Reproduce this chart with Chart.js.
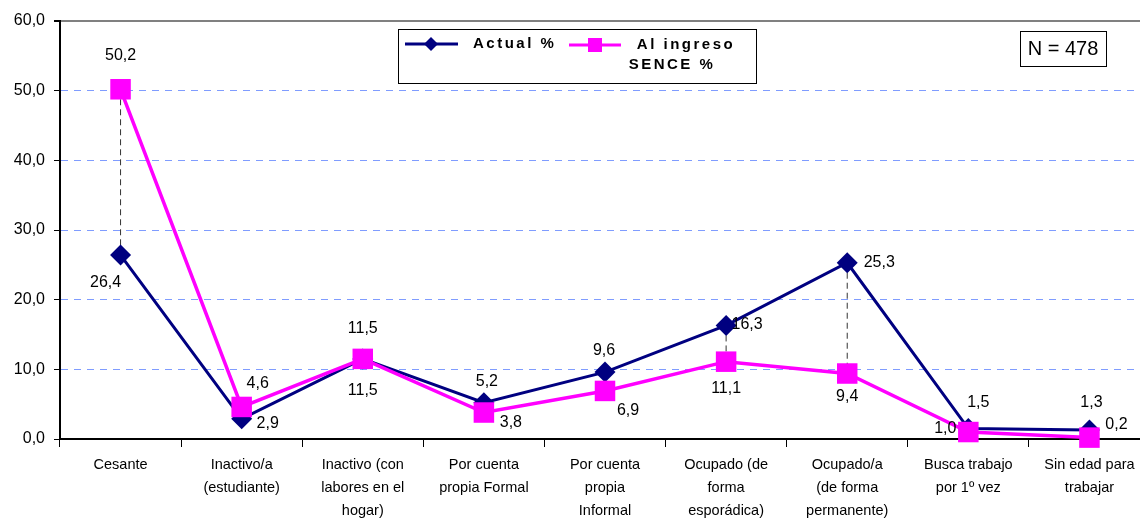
<!DOCTYPE html>
<html>
<head>
<meta charset="utf-8">
<script src="https://cdn.jsdelivr.net/npm/chart.js@4/dist/chart.umd.min.js"></script>
<style>
  html, body { margin: 0; padding: 0; background: #fff; overflow: hidden; }
  #myChart { display: block; }
</style>
</head>
<body>
<canvas id="myChart" width="1150" height="520"></canvas>
<script>
// datos
const categorias = [
	'Cesante',
	['Inactivo/a', '(estudiante)'],
	['Inactivo (con', 'labores en el', 'hogar)'],
	['Por cuenta', 'propia Formal'],
	['Por cuenta', 'propia', 'Informal'],
	['Ocupado (de', 'forma', 'esporádica)'],
	['Ocupado/a', '(de forma', 'permanente)'],
	['Busca trabajo', 'por 1º vez'],
	['Sin edad para', 'trabajar']
];
const actual = [26.4, 2.9, 11.5, 5.2, 9.6, 16.3, 25.3, 1.5, 1.3];
const alIngreso = [50.2, 4.6, 11.5, 3.8, 6.9, 11.1, 9.4, 1.0, 0.2];
const nombreActual = ['Actual %'];
const nombreIngreso = ['Al ingreso', 'SENCE %'];
const yTicks = [0, 10, 20, 30, 40, 50, 60];
const textoN = 'N = 478';

// posicion de las etiquetas respecto del punto (px)
const offActual = [[-15, 28], [26, 5], [0, 32], [3, -21], [-1, -22], [21, -1], [32, 0], [10, -26], [2, -27]];
const offIngreso = [[0, -34], [16, -23], [0, -30], [27, 10], [23, 20], [0, 27], [0, 23], [-23, -3], [27, -13]];

const AZUL = '#000080';
const ROSA = '#ff00ff';
const FUENTE = '"Liberation Sans", Arial, sans-serif';

function fmt(v) { return v.toFixed(1).replace('.', ','); }

// lineas verticales entre las dos series
const lineasAltoBajo = {
	id: 'lineasAltoBajo',
	beforeDatasetsDraw(chart) {
		const ctx = chart.ctx;
		const x = chart.scales.x, y = chart.scales.y;
		ctx.save();
		ctx.strokeStyle = '#333';
		ctx.lineWidth = 1;
		ctx.setLineDash([6, 4]);
		for (let i = 0; i < categorias.length; i++) {
			const px = x.getPixelForValue(i);
			ctx.beginPath();
			ctx.moveTo(px, y.getPixelForValue(Math.max(actual[i], alIngreso[i])));
			ctx.lineTo(px, y.getPixelForValue(Math.min(actual[i], alIngreso[i])));
			ctx.stroke();
		}
		ctx.restore();
	}
};

// etiquetas de valores
const etiquetas = {
	id: 'etiquetas',
	afterDatasetsDraw(chart) {
		const ctx = chart.ctx;
		ctx.save();
		ctx.font = '16px ' + FUENTE;
		ctx.fillStyle = '#000';
		ctx.textAlign = 'center';
		ctx.textBaseline = 'middle';
		const series = [[0, actual, offActual], [1, alIngreso, offIngreso]];
		series.forEach(([ds, vals, offs]) => {
			const meta = chart.getDatasetMeta(ds);
			meta.data.forEach((pt, i) => {
				ctx.fillText(fmt(vals[i]), pt.x + offs[i][0], pt.y + offs[i][1]);
			});
		});
		ctx.restore();
	}
};

// leyenda y recuadro N
const leyenda = {
	id: 'leyenda',
	afterDraw(chart) {
		const ctx = chart.ctx;
		ctx.save();
		ctx.fillStyle = '#fff';
		ctx.fillRect(398, 29, 359, 55);
		ctx.strokeStyle = '#000';
		ctx.lineWidth = 1;
		ctx.strokeRect(398.5, 29.5, 358, 54);

		// Actual
		ctx.strokeStyle = AZUL; ctx.lineWidth = 3;
		ctx.beginPath(); ctx.moveTo(405, 44); ctx.lineTo(458, 44); ctx.stroke();
		ctx.fillStyle = AZUL;
		ctx.beginPath(); ctx.moveTo(431, 37); ctx.lineTo(438, 44); ctx.lineTo(431, 51); ctx.lineTo(424, 44); ctx.closePath(); ctx.fill();

		// Al ingreso
		ctx.strokeStyle = ROSA;
		ctx.beginPath(); ctx.moveTo(569, 45); ctx.lineTo(621, 45); ctx.stroke();
		ctx.fillStyle = ROSA;
		ctx.fillRect(588, 38, 14, 14);

		ctx.fillStyle = '#000';
		ctx.font = 'bold 15px ' + FUENTE;
		ctx.letterSpacing = '2.5px';
		ctx.textBaseline = 'middle';
		ctx.textAlign = 'left';
		ctx.fillText(nombreActual[0], 473, 44);
		ctx.textAlign = 'center';
		ctx.fillText(nombreIngreso[0], 686, 45);
		ctx.fillText(nombreIngreso[1], 672, 65);
		ctx.letterSpacing = '0px';

		// N
		ctx.fillStyle = '#fff';
		ctx.fillRect(1020, 31, 87, 35);
		ctx.strokeStyle = '#000';
		ctx.lineWidth = 1;
		ctx.strokeRect(1020.5, 31.5, 86, 35);
		ctx.fillStyle = '#000';
		ctx.font = '20px ' + FUENTE;
		ctx.textAlign = 'center';
		ctx.fillText(textoN, 1063, 49);
		ctx.restore();
	}
};

const ctx = document.getElementById('myChart').getContext('2d');
const myChart = new Chart(ctx, {
	type: 'line',
	data: {
		labels: categorias,
		datasets: [
			{
				label: nombreActual.join(' '),
				data: actual,
				borderColor: AZUL,
				backgroundColor: AZUL,
				borderWidth: 3,
				pointStyle: 'rectRot',
				pointRadius: 10.5,
				pointBorderWidth: 0,
				pointBackgroundColor: AZUL,
				tension: 0,
				clip: false,
				order: 1
			},
			{
				label: nombreIngreso.join(' '),
				data: alIngreso,
				borderColor: ROSA,
				backgroundColor: ROSA,
				borderWidth: 3.5,
				pointStyle: 'rect',
				pointRadius: 14.5,
				pointBorderWidth: 0,
				pointBackgroundColor: ROSA,
				tension: 0,
				clip: false,
				order: 0
			}
		]
	},
	options: {
		responsive: false,
		animation: false,
		layout: { autoPadding: false, padding: { top: 21, right: 0, bottom: 0, left: 0 } },
		plugins: {
			legend: { display: false },
			tooltip: { enabled: false }
		},
		scales: {
			x: {
				offset: true,
				afterFit(scale) {
					scale.height = 81;
					scale.paddingLeft = 0;
					scale.paddingRight = 0;
				},
				grid: {
					offset: true,
					drawOnChartArea: false,
					tickLength: 8,
					tickColor: '#000',
					tickWidth: 1
				},
				border: { color: '#000', width: 2 },
				ticks: {
					autoSkip: false,
					maxRotation: 0,
					padding: 6,
					color: '#000',
					font: { family: FUENTE, size: 14.5, lineHeight: 1.6 }
				}
			},
			y: {
				min: 0,
				max: 60,
				afterFit(scale) { scale.width = 60; },
				afterBuildTicks(scale) { scale.ticks = yTicks.map(v => ({ value: v })); },
				grid: {
					color: (c) => c.tick.value === 60 ? '#808080' : (c.tick.value === 0 ? 'rgba(0,0,0,0)' : '#7f9cff'),
					lineWidth: (c) => c.tick.value === 60 ? 2 : 1,
					tickLength: 6,
					tickColor: '#000'
				},
				border: {
					color: '#000',
					width: 2,
					dash: (c) => (c.tick && c.tick.value > 0 && c.tick.value < 60) ? [7, 6] : []
				},
				ticks: {
					padding: 9,
					color: '#000',
					font: { family: FUENTE, size: 16 },
					callback: (v) => fmt(v)
				}
			}
		}
	},
	plugins: [lineasAltoBajo, etiquetas, leyenda]
});
</script>
</body>
</html>
